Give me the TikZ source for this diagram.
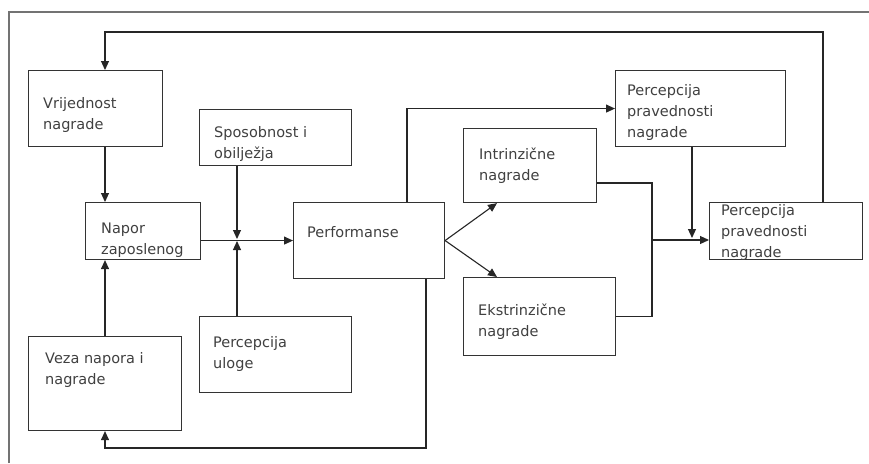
\documentclass[tikz,border=0pt]{standalone}
\usepackage{fontspec}
\setmainfont{DejaVu Sans}
\usetikzlibrary{arrows.meta,calc}
\begin{document}
\begin{tikzpicture}[x=1pt,y=-1pt,
  box/.style={draw=black!80, line width=1.1pt, rectangle, inner sep=0pt, anchor=north west},
  txt/.style={font=\fontsize{14.5}{21.3}\selectfont, text=black!75, align=left, inner sep=0pt, anchor=base west},
  conn/.style={draw=black!85, line width=1.1pt},
  arr/.style={conn, -{Triangle[length=9pt,width=8pt]}},
  frameline/.style={draw=black!55, line width=2pt}]
\useasboundingbox (0,0) rectangle (869,463);
\fill[white] (0,0) rectangle (869,463);
\draw[frameline] (9,463) -- (9,12) -- (869,12);

% boxes
\node[box, minimum width=134pt, minimum height=76pt] (vr)   at (28,70)   {};
\node[box, minimum width=115pt, minimum height=57pt] (nap)  at (85,202)  {};
\node[box, minimum width=152pt, minimum height=56pt] (spos) at (199,109) {};
\node[box, minimum width=151pt, minimum height=76pt] (perf) at (293,202) {};
\node[box, minimum width=152pt, minimum height=76pt] (ul)   at (199,316) {};
\node[box, minimum width=153pt, minimum height=94pt] (veza) at (28,336)  {};
\node[box, minimum width=170pt, minimum height=76pt] (pp)   at (615,70)  {};
\node[box, minimum width=133pt, minimum height=74pt] (intr) at (463,128) {};
\node[box, minimum width=152pt, minimum height=78pt] (ekst) at (463,277) {};
\node[box, minimum width=153pt, minimum height=57pt] (last) at (709,202) {};

% texts (anchor = baseline of the last line)
\node[txt] (tvr)   at (43,129.3)  {Vrijednost\\nagrade};
\node[txt] (tspos) at (214,158.3) {Sposobnost i\\obilježja};
\node[txt] (tnap)  at (101,254.3) {Napor\\zaposlenog};
\node[txt] (tperf) at (307,237)   {Performanse};
\node[txt] (tul)   at (213,368.3) {Percepcija\\uloge};
\node[txt] (tveza) at (45,384.3)  {Veza napora i\\nagrade};
\node[txt] (tpp)   at (627,137.6) {Percepcija\\pravednosti\\nagrade};
\node[txt] (tintr) at (479,180.3) {Intrinzične\\nagrade};
\node[txt] (tekst) at (478,336.3) {Ekstrinzične\\nagrade};
\node[txt] (tlast) at (721,257.6) {Percepcija\\pravednosti\\nagrade};

% helper coordinates
\coordinate (cL) at (105,32);
\coordinate (cR) at (823,32);
\coordinate (jt) at (237,239);
\coordinate (jb) at (237,241);
\coordinate (p1) at (407,108);
\coordinate (m)  at (652,240);
\coordinate (y183) at (0,183);
\coordinate (q)  at (692,238);
\coordinate (b)  at (426,448);

% connectors
\draw[arr] (last.north -| cR) -- (cR) -- (cL) -- (vr.north -| cL);
\draw[arr] (vr.south -| cL) -- (nap.north -| cL);
\draw[arr] (veza.north -| cL) -- (nap.south -| cL);
\draw[arr] (nap.east |- perf.west) -- (perf.west);
\draw[arr] (spos.south -| jt) -- (jt);
\draw[arr] (ul.north -| jb) -- (jb);
\draw[arr] (perf.north -| p1) |- (pp.west);
\draw[arr] (perf.east) -- ($(intr.south west)+(34,0)$);
\draw[arr] (perf.east) -- ($(ekst.north west)+(34,0)$);
\draw[conn] (intr.east |- y183) -| (m) |- (ekst.east);
\draw[arr] (m) -- (last.west |- m);
\draw[arr] (pp.south -| q) -- (q);
\draw[arr] (perf.south -| b) |- (cL |- b) -- (veza.south -| cL);
\end{tikzpicture}
\end{document}
